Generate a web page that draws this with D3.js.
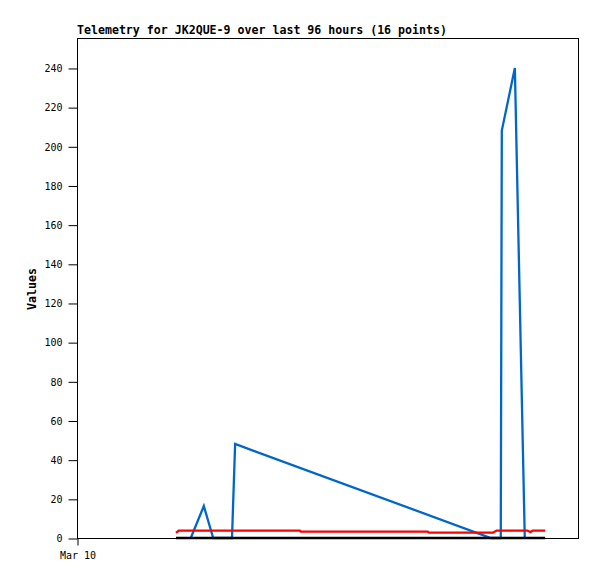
<!DOCTYPE html>
<html>
<head>
<meta charset="utf-8">
<script src="https://cdn.jsdelivr.net/npm/d3@7"></script>
<style>
    body { margin: 0; background: #fff; }
    text { font-family: 'DejaVu Sans Mono', monospace; }
</style>
</head>
<body>
<svg id="chart" width="597" height="579"></svg>
<script>
// hours after Mar 10 00:00 and values
var blueHours = [21.8, 24.3, 26.1, 29.7, 30.3, 79.3, 81.2, 81.4, 83.9, 85.8]
var blueVals = [0, 16.3, 0, 0, 48, 0, 0, 208, 240, 0]
var redHours = [18.97, 19.5, 42.7, 42.9, 67.2, 67.4, 79.7, 80.4, 86.3, 86.9, 87.3, 89.7]
var redVals = [2.6, 3.8, 3.8, 3.3, 3.3, 2.7, 2.7, 3.8, 3.8, 3.0, 3.8, 3.8]
var blackHours = [18.97, 89.7]
var blackVals = [0, 0]
var yTicks = [0, 20, 40, 60, 80, 100, 120, 140, 160, 180, 200, 220, 240]
var start = new Date(2024, 2, 10, 0, 0)
var title = 'Telemetry for JK2QUE-9 over last 96 hours (16 points)'

var margin = { left: 77, top: 38, right: 578, bottom: 538 }
var svg = d3.select('#chart')

var x = d3.scaleTime()
    .domain([start, d3.timeHour.offset(start, 96)])
    .range([margin.left, margin.right])
var y = d3.scaleLinear()
    .domain([0, 255.3])
    .range([margin.bottom, margin.top])

function toPoints(hours, vals) {
    return hours.map(function(h, i) {
        return { t: new Date(start.getTime() + h * 3600000), v: vals[i] }
    })
}

// frame
svg.append('rect')
    .attr('x', margin.left + 0.5)
    .attr('y', margin.top + 0.5)
    .attr('width', margin.right - margin.left)
    .attr('height', margin.bottom - margin.top)
    .style('fill', 'none')
    .style('stroke', '#000')
    .style('stroke-width', 1)

// y axis
var yAxis = d3.axisLeft(y).tickValues(yTicks).tickSize(9).tickPadding(6)
var gy = svg.append('g')
    .attr('transform', 'translate(' + (margin.left + 0.5) + ',0.5)')
    .call(yAxis)
gy.select('.domain').remove()
gy.selectAll('text')
    .style('font-family', "'DejaVu Sans Mono', monospace")
    .style('font-size', '10px')
    .style('fill', '#000')

// x axis
var xAxis = d3.axisBottom(x).tickValues([start]).tickSize(7).tickPadding(6)
    .tickFormat(d3.timeFormat('%b %d'))
var gx = svg.append('g')
    .attr('transform', 'translate(0.5,' + (margin.bottom + 0.5) + ')')
    .call(xAxis)
gx.select('.domain').remove()
gx.selectAll('text')
    .style('font-family', "'DejaVu Sans Mono', monospace")
    .style('font-size', '10px')
    .style('fill', '#000')

var line = d3.line()
    .x(function(d) { return x(d.t) })
    .y(function(d) { return y(d.v) })

// blue first, then red, black on top (hides blue at zero)
var series = [
    { pts: toPoints(blueHours, blueVals), color: '#0066cc' },
    { pts: toPoints(redHours, redVals), color: '#ff0000' },
    { pts: toPoints(blackHours, blackVals), color: '#000000' }
]

svg.append('g').selectAll('path')
    .data(series)
    .enter()
    .append('path')
    .attr('d', function(d) { return line(d.pts) })
    .style('fill', 'none')
    .style('stroke', function(d) { return d.color })
    .style('stroke-width', 2.3)
    .style('stroke-linejoin', 'miter')

// title
svg.append('text')
    .attr('x', margin.left)
    .attr('y', 34)
    .text(title)
    .style('font-size', '11.6px')
    .style('font-weight', 'bold')
    .style('fill', '#000')

// y label
svg.append('text')
    .attr('transform', 'translate(36,289) rotate(-90)')
    .attr('text-anchor', 'middle')
    .text('Values')
    .style('font-size', '11.6px')
    .style('font-weight', 'bold')
    .style('fill', '#000')
</script>
</body>
</html>
